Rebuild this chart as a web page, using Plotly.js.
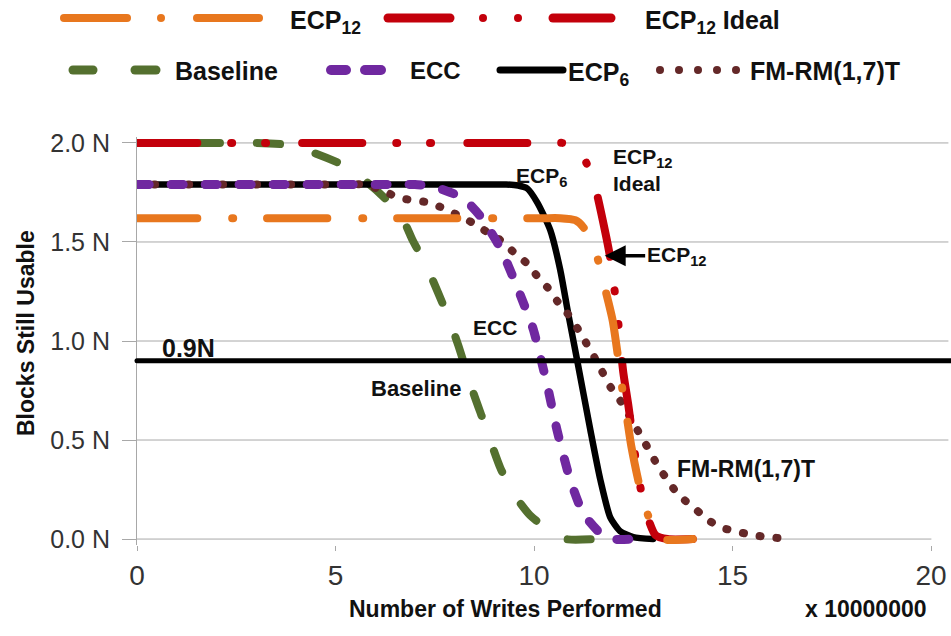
<!DOCTYPE html>
<html>
<head>
<meta charset="utf-8">
<script src="https://cdn.plot.ly/plotly-3.0.1.min.js"></script>
<style>html,body{margin:0;padding:0;background:#fff}#chart{width:951px;height:636px}</style>
</head>
<body>
<div id="chart"></div>
<script>
// ---- data (x in units of 10,000,000 writes; y in units of N) ----
const baselineX = [0, 1.5, 2.7, 3.0, 3.8, 4.45, 5.17, 5.8, 6.3, 6.71, 6.94, 7.31, 7.84, 8.09, 8.47, 8.72, 9.15, 9.48, 9.9, 10.41, 10.8, 11.55];
const baselineY = [2.0, 2.0, 2.0, 2.0, 1.99, 1.95, 1.89, 1.80, 1.71, 1.61, 1.51, 1.37, 1.12, 0.98, 0.74, 0.60, 0.36, 0.23, 0.12, 0.04, 0, 0];

const eccX = [0, 6.5, 7.0, 7.46, 7.9, 8.22, 8.65, 9.15, 9.58, 9.98, 10.16, 10.33, 10.58, 10.91, 11.24, 11.67, 12.0, 12.5];
const eccY = [1.79, 1.79, 1.79, 1.78, 1.75, 1.72, 1.63, 1.47, 1.27, 1.06, 0.92, 0.78, 0.55, 0.30, 0.13, 0.03, 0, 0];

const ecp6X = [0, 8.8, 9.3, 9.6, 9.83, 10.08, 10.41, 10.66, 10.86, 11.09, 11.42, 11.67, 11.92, 12.17, 12.5, 13.0];
const ecp6Y = [1.79, 1.79, 1.79, 1.785, 1.77, 1.70, 1.56, 1.36, 1.14, 0.90, 0.55, 0.30, 0.11, 0.04, 0.01, 0];

const fmrmX = [0, 5.2, 5.7, 6.2, 6.56, 6.96, 7.34, 7.72, 8.09, 8.47, 8.82, 9.15, 9.48, 9.83, 10.11, 10.34, 10.59, 10.84, 11.17, 11.37, 11.6, 11.92, 12.17, 12.55, 12.75, 12.93, 13.13, 13.36, 13.61, 13.89, 14.19, 14.36, 14.69, 15.07, 15.5, 16.0, 16.45];
const fmrmY = [1.79, 1.79, 1.79, 1.76, 1.725, 1.71, 1.70, 1.67, 1.635, 1.595, 1.55, 1.51, 1.45, 1.39, 1.32, 1.27, 1.20, 1.14, 1.04, 0.97, 0.89, 0.77, 0.70, 0.57, 0.50, 0.44, 0.365, 0.30, 0.23, 0.18, 0.13, 0.10, 0.06, 0.04, 0.02, 0.008, 0];

const ecp12X = [0, 10.2, 10.66, 11.04, 11.24, 11.54, 11.72, 11.98, 12.15, 12.25, 12.35, 12.45, 12.68, 13.0, 13.2, 14.0];
const ecp12Y = [1.62, 1.62, 1.62, 1.61, 1.575, 1.46, 1.32, 1.105, 0.87, 0.72, 0.60, 0.47, 0.25, 0.05, 0, 0];

const idealX = [0, 10.3, 10.72, 11.0, 11.24, 11.5, 11.8, 11.92, 12.1, 12.17, 12.25, 12.38, 12.6, 12.8, 13.06, 13.36, 14.0];
const idealY = [2.0, 2.0, 2.0, 1.98, 1.93, 1.81, 1.545, 1.42, 1.14, 0.99, 0.84, 0.67, 0.35, 0.15, 0.02, 0, 0];

const yTickVals = [0, 0.5, 1.0, 1.5, 2.0];
const yTickText = ['0.0 N', '0.5 N', '1.0 N', '1.5 N', '2.0 N'];
const xTickVals = [0, 5, 10, 15, 20];
const threshold = 0.9;

// ---- layout helpers ----
const W = 951, H = 636, L = 137, R = 20, T = 137, B = 91;
const pw = W - L - R, ph = H - T - B;
const px = p => (p - L) / pw;
const py = p => (H - B - p) / ph;
const FONT = '"Liberation Sans", Arial, sans-serif';

const C = {
  orange: '#E8771E', red: '#C3000B', green: '#54702F',
  purple: '#7028A0', black: '#000000', brown: '#642828'
};

function tr(x, y, color, width, dash, name) {
  return {x, y, name, type: 'scatter', mode: 'lines', hoverinfo: 'skip',
    line: {color, width, dash: dash || 'solid', shape: 'spline', smoothing: 0.6}, showlegend: false};
}

const traces = [
  tr(baselineX, baselineY, C.green, 8, '23px,37px', 'Baseline'),
  tr(ecp6X, ecp6Y, C.black, 6.5, 'solid', 'ECP6'),
  tr(fmrmX, fmrmY, C.brown, 8, '1px,16px', 'FM-RM(1,7)T'),
  tr(eccX, eccY, C.purple, 9, '12px,22px', 'ECC'),
  tr(idealX, idealY, C.red, 8, '60px,34px,1px,33px,1px,36px', 'ECP12 Ideal'),
  tr(ecp12X, ecp12Y, C.orange, 8, '60px,35px,1px,34px', 'ECP12')
];

const shapes = [];
// gridlines (extend past the last x tick like the original)
[0.5, 1.0, 1.5, 2.0].forEach(v => shapes.push({type: 'line', xref: 'paper', yref: 'y',
  x0: 0, x1: px(948), y0: v, y1: v, line: {color: '#A8A8A8', width: 1}, layer: 'below'}));
// x axis line at y = 0
shapes.push({type: 'line', xref: 'paper', yref: 'y', x0: 0, x1: 1, y0: 0, y1: 0,
  line: {color: '#A8A8A8', width: 1}, layer: 'below'});
// 0.9N threshold line
shapes.push({type: 'line', xref: 'paper', yref: 'y', x0: 0, x1: px(951), y0: threshold, y1: threshold,
  line: {color: '#000', width: 5}, layer: 'above'});

// custom legend symbols
function seg(x0, x1, yy, color, width) {
  shapes.push({type: 'line', xref: 'paper', yref: 'paper', x0: px(x0), x1: px(x1), y0: py(yy), y1: py(yy),
    line: {color, width}});
}
function dot(xx, yy, color, d) {
  shapes.push({type: 'circle', xref: 'paper', yref: 'paper', xsizemode: 'pixel', ysizemode: 'pixel',
    xanchor: px(xx), yanchor: py(yy), x0: -d / 2, x1: d / 2, y0: -d / 2, y1: d / 2,
    fillcolor: color, line: {width: 0}});
}
const r1 = 18, r2 = 70;
seg(64, 127, r1, C.orange, 8); dot(161, r1, C.orange, 8); seg(197, 259, r1, C.orange, 8);
seg(388, 450, r1, C.red, 9); dot(483, r1, C.red, 8); dot(518, r1, C.red, 8); seg(553, 611, r1, C.red, 9);
seg(73, 93, r2, C.green, 9); seg(135, 156, r2, C.green, 9);
seg(331, 346, r2, C.purple, 10); seg(365, 381, r2, C.purple, 10);
seg(500, 563, r2, C.black, 7);
[660, 679, 698, 717, 736].forEach(x => dot(x, r2, C.brown, 8));

function lab(text, x, y, size, xanchor) {
  return {text, xref: 'paper', yref: 'paper', x: px(x), y: py(y), xanchor: xanchor || 'left',
    yanchor: 'middle', showarrow: false, font: {family: FONT, size, color: '#111', weight: 'bold'}};
}
function dlab(text, x, y, size, xanchor, yanchor, align) {
  return {text, xref: 'x', yref: 'y', x, y, xanchor: xanchor || 'center', yanchor: yanchor || 'middle',
    align: align || 'center', showarrow: false, font: {family: FONT, size, color: '#111', weight: 'bold'}};
}

const annotations = [
  // legend labels
  lab('ECP<sub>12</sub>', 288, 22, 25),
  lab('ECP<sub>12</sub> Ideal', 643, 22, 25),
  lab('Baseline', 173, 71, 25),
  lab('ECC', 408, 71, 24),
  lab('ECP<sub>6</sub>', 566, 74, 25),
  lab('FM-RM(1,7)T', 748, 71, 25),
  // axis titles
  {text: 'Blocks Still Usable', xref: 'paper', yref: 'paper', x: px(26), y: py(333), textangle: -90,
    xanchor: 'center', yanchor: 'middle', showarrow: false, font: {family: FONT, size: 23, color: '#111', weight: 'bold'}},
  lab('Number of Writes Performed', 505, 609, 23, 'center'),
  lab('x 10000000', 866, 609, 23, 'center'),
  // in-plot labels
  dlab('ECP<sub>6</sub>', 10.2, 1.83, 21),
  dlab('ECP<sub>12</sub><br>Ideal', 11.93, 2.0, 21, 'left', 'top', 'left'),
  dlab('ECC', 9.02, 1.07, 21),
  dlab('Baseline', 7.05, 0.76, 22),
  dlab('FM-RM(1,7)T', 13.55, 0.355, 23, 'left'),
  dlab('0.9N', 1.3, 0.965, 25),
  {text: 'ECP<sub>12</sub>', xref: 'x', yref: 'y', x: 11.78, y: 1.43, ax: 72, ay: 0,
    showarrow: true, arrowhead: 2, arrowsize: 1.2, arrowwidth: 3.5, arrowcolor: '#000', standoff: 0,
    font: {family: FONT, size: 21, color: '#111', weight: 'bold'}}
];

const layout = {
  width: W, height: H,
  margin: {l: L, r: R, t: T, b: B, pad: 0},
  paper_bgcolor: '#fff', plot_bgcolor: '#fff',
  showlegend: false,
  font: {family: FONT, color: '#222'},
  xaxis: {range: [0, 20], tickvals: xTickVals, ticktext: xTickVals.map(String),
    showgrid: false, zeroline: false, showline: false,
    ticks: 'outside', ticklen: 5, tickcolor: '#A8A8A8', tickwidth: 1,
    tickfont: {family: FONT, size: 28, color: '#333'}, fixedrange: true},
  yaxis: {range: [-0.03, 2.03], tickvals: yTickVals, ticktext: yTickText,
    showgrid: false, zeroline: false, showline: true, linecolor: '#A8A8A8', linewidth: 1,
    ticks: 'outside', ticklen: 14, tickcolor: '#A8A8A8', tickwidth: 1, ticklabelstandoff: 7,
    tickfont: {family: FONT, size: 25, color: '#333'}, fixedrange: true},
  shapes, annotations
};

Plotly.newPlot('chart', traces, layout, {staticPlot: true, displayModeBar: false}).then(gd => {
  gd.querySelectorAll('.scatterlayer path.js-line, .shapelayer path').forEach(p => {
    p.style.strokeLinecap = 'round';
    p.style.strokeLinejoin = 'round';
  });
});
</script>
</body>
</html>
